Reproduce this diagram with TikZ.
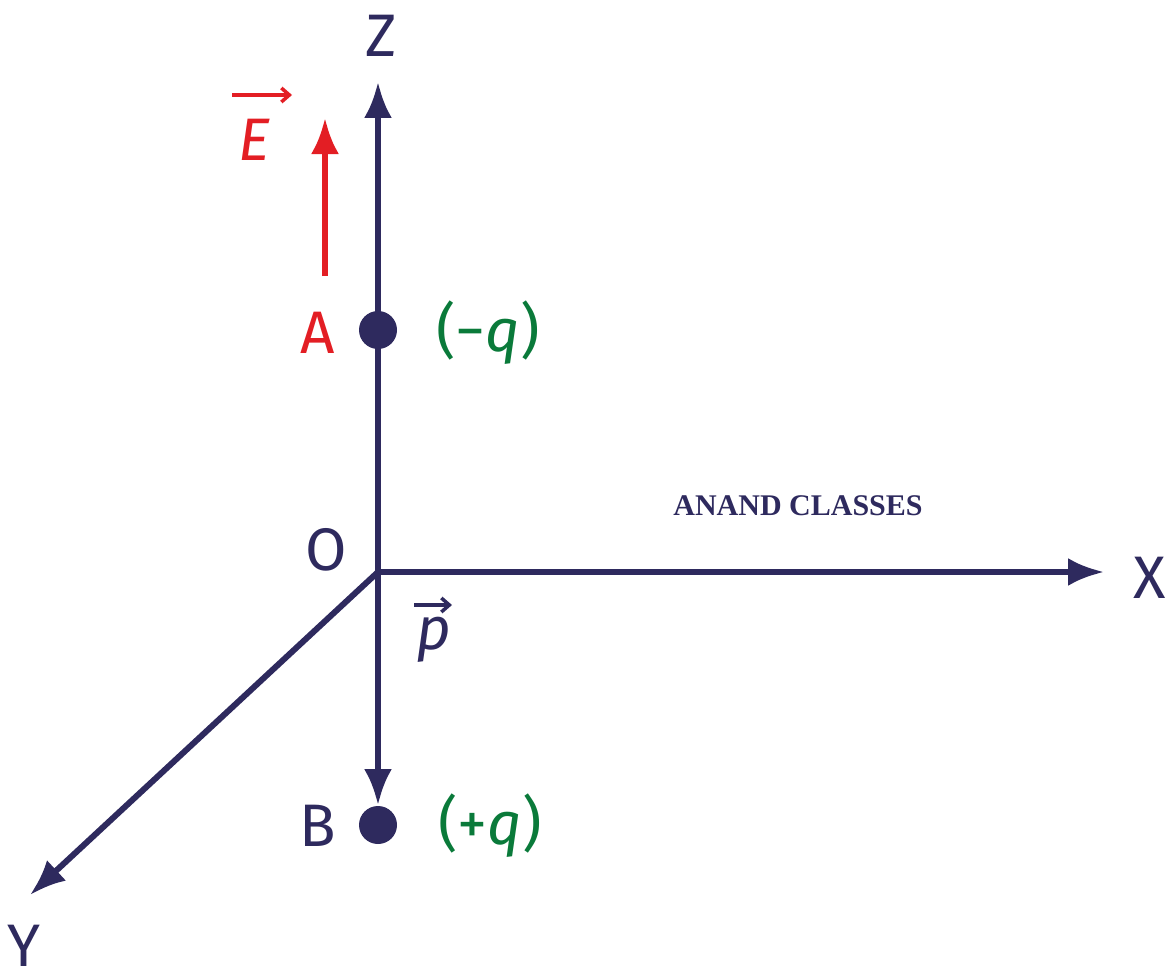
\documentclass[tikz,border=0pt]{standalone}
\usepackage{fontspec}
\setmainfont{Fira Sans}
\usetikzlibrary{arrows.meta}
\definecolor{navy}{HTML}{2E2A5E}
\definecolor{rd}{HTML}{E31E24}
\definecolor{gr}{HTML}{0A7A3A}
\begin{document}
\begin{tikzpicture}[x=1pt,y=-1pt,
 ax/.style={navy,line width=6pt,-{Latex[length=36pt,width=28pt]}},
 lbl/.style={font=\fontsize{60}{64}\selectfont\mdseries,inner sep=0pt},
 vecar/.style={line width=3.5pt,-{Straight Barb[length=8pt,width=14pt]}},
 dot/.style={circle,fill=navy,minimum size=38pt,inner sep=0pt}]
\useasboundingbox (0,0) rectangle (1175,979);
\coordinate (O) at (378,572);
\coordinate (Zt) at (378,82);
\coordinate (Xt) at (1104,572);
\coordinate (Yt) at (30,895);
\coordinate (Bt) at (378,805);
\node[dot] (A) at (378,330) {};
\node[dot] (B) at (378,825) {};
\draw[ax] (O) -- (Zt);
\draw[ax] (O) -- (Xt);
\draw[ax] (O) -- (Yt);
\draw[ax] (O) -- (Bt);
\node[lbl,navy] (Z) at (381,36) {Z};
\node[lbl,navy] (X) at (1150,578) {X};
\node[lbl,navy] (Y) at (24,946) {Y};
\node[lbl,navy] (Ol) at (326,550) {O};
\node[lbl,rd] (Al) at (318,333) {A};
\node[lbl,navy] (Bl) at (318,826) {B};
\node[lbl,gr] (qm) at (488,333) {(−\textit{q})};
\node[lbl,gr] (qp) at (490,826) {(+\textit{q})};
\node[lbl,navy] (p) at (434,640) {\textit{p}};
\coordinate (pa) at (414,605); \coordinate (pb) at (452,605);
\draw[vecar,navy] (pa) -- (pb);
\coordinate (Es) at (325,276);
\coordinate (Ee) at (325,118);
\draw[rd,line width=6pt,-{Latex[length=36pt,width=28pt]}] (Es) -- (Ee);
\node[lbl,rd] (E) at (254,140) {\textit{E}};
\coordinate (ea) at (232,95); \coordinate (eb) at (292,95);
\draw[vecar,rd] (ea) -- (eb);
\node[navy,font=\fontsize{30}{32}\selectfont] (brand) at (798,506) {\fontspec{Liberation Serif}\bfseries ANAND CLASSES};
\end{tikzpicture}
\end{document}
